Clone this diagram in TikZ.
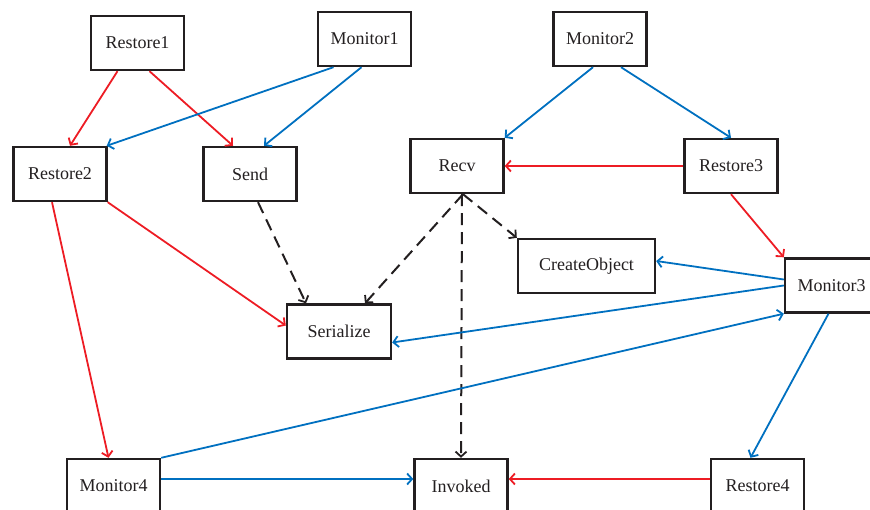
\documentclass[tikz,border=0pt]{standalone}
\usepackage{fontspec}
\setmainfont{Liberation Serif}
\usetikzlibrary{arrows.meta,calc}
\definecolor{ered}{RGB}{237,28,36}
\definecolor{eblue}{RGB}{0,112,192}
\definecolor{ink}{RGB}{35,31,32}
\tikzset{
  box/.style={draw=ink,line width=2.4pt,minimum width=93pt,minimum height=54pt,inner sep=0pt,
    text=ink,font=\fontsize{18}{21}\selectfont},
  conn/.style={line width=1.8pt,-{Straight Barb[length=5pt,width=11pt,line width=1.8pt]}},
  redc/.style={conn,draw=ered},
  bluec/.style={conn,draw=eblue},
  callc/.style={conn,draw=ink,line width=2pt,dash pattern=on 12pt off 7pt}
}
\begin{document}
\begin{tikzpicture}[x=1pt,y=-1pt]
\useasboundingbox (0,0) rectangle (870,510);
\clip (0,0) rectangle (870,510);
\node[box] (r1) at (137.5,43) {Restore1};
\node[box] (m1) at (364.5,39) {Monitor1};
\node[box] (m2) at (600,39) {Monitor2};
\node[box] (r2) at (60,174) {Restore2};
\node[box] (send) at (250,174) {Send};
\node[box] (recv) at (457,166) {Recv};
\node[box] (r3) at (731,166) {Restore3};
\node[box,minimum width=137pt] (co) at (586.5,266) {CreateObject};
\node[box] (m3) at (831.5,285.5) {Monitor3};
\node[box,minimum width=104pt] (ser) at (339,331.5) {Serialize};
\node[box] (m4) at (113.5,486) {Monitor4};
\node[box] (inv) at (461,486) {Invoked};
\node[box] (r4) at (757.5,486) {Restore4};

\draw[redc] ([xshift=-20pt]r1.south) -- ([xshift=10pt]r2.north);
\draw[redc] ([xshift=12pt]r1.south) -- ([xshift=-17pt]send.north);
\draw[bluec] ([xshift=-31pt]m1.south) -- ([xshift=-1pt]r2.north east);
\draw[bluec] ([xshift=-3pt]m1.south) -- ([xshift=14pt]send.north);
\draw[bluec] ([xshift=-7pt]m2.south) -- (recv.north east);
\draw[bluec] ([xshift=21pt]m2.south) -- (r3.north);
\draw[redc] (r3.west) -- (recv.east);
\draw[redc] (r3.south) -- (m3.north west);
\draw[redc] (r2.south east) -- ([yshift=6pt]ser.west);
\draw[redc] ([xshift=-8pt]r2.south) -- ([xshift=-5pt]m4.north);
\draw[callc] ([xshift=8pt]send.south) -- ([xshift=-33pt]ser.north);
\draw[callc] ([xshift=6pt]recv.south) -- ([xshift=26pt]ser.north);
\draw[callc] ([xshift=6pt]recv.south) -- (co.north west);
\draw[callc] ([xshift=5pt]recv.south) -- (inv.north);
\draw[bluec] ([yshift=6pt]m3.west) -- ([yshift=5pt]co.east);
\draw[bluec] (m3.west) -- ([yshift=-11pt]ser.east);
\draw[bluec] (m4.north east) -- (m3.south west);
\draw[bluec] ([yshift=7pt]m4.east) -- ([yshift=7pt]inv.west);
\draw[bluec] ([xshift=-3pt]m3.south) -- ([xshift=-7pt]r4.north);
\draw[redc] ([yshift=7pt]r4.west) -- ([yshift=7pt]inv.east);
\end{tikzpicture}
\end{document}
